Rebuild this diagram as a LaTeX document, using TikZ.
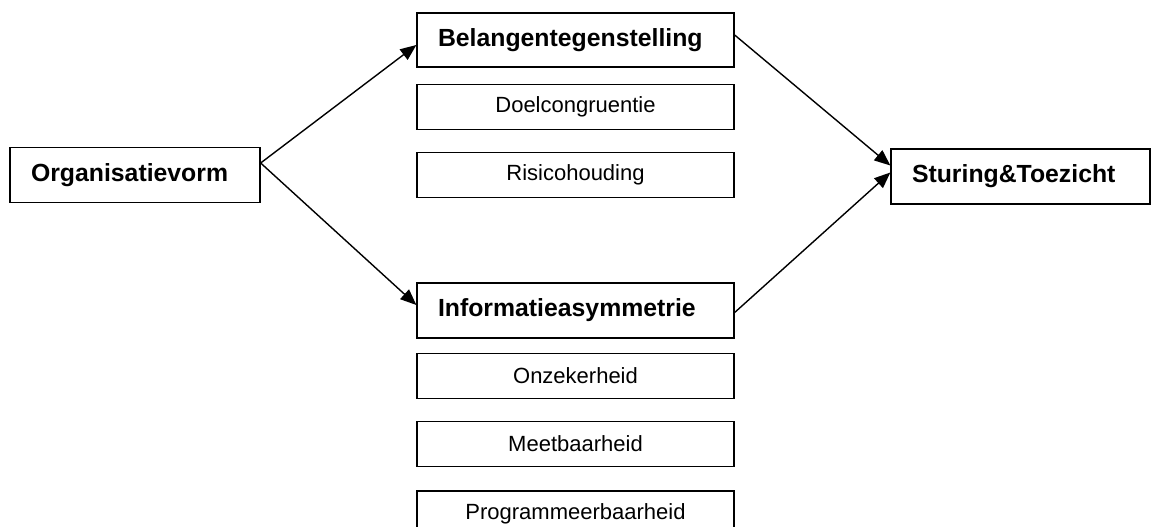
\documentclass[tikz,border=0pt]{standalone}
\usepackage{fontspec}
\setmainfont{Liberation Sans}
\usetikzlibrary{positioning,arrows.meta}

\begin{document}
\begin{tikzpicture}[x=1pt,y=1pt,
		mainbox/.style={draw, rectangle, line width=1.3pt, inner xsep=21pt, inner ysep=0pt, align=left, minimum height=55pt, font=\fontsize{24.8}{28}\selectfont\bfseries},
		subbox/.style={draw, rectangle, line width=1.3pt, inner sep=0pt, align=center, minimum width=317pt, minimum height=45pt, font=\fontsize{22}{25}\selectfont},
		pijl/.style={-{Triangle[length=16pt,width=13pt]}, line width=1.4pt}]
				\useasboundingbox (0,0) rectangle (1154,-527);
				\clip (0,0) rectangle (1154,-527);
				
				\node[mainbox, text width=208pt] (orgvorm) at (135,-175) {Organisatievorm};
				\node[mainbox, text width=275pt, minimum height=54pt] (belang) at (575.5,-40) {Belangentegenstelling};
				\node[subbox, below=16pt of belang] (doel) {Doelcongruentie};
				\node[subbox, below=22pt of doel] (risico) {Risicohouding};
				\node[mainbox, text width=275pt] (info) at (575.5,-310.5) {Informatieasymmetrie};
				\node[subbox, below=14pt of info] (onzek) {Onzekerheid};
				\node[subbox, below=22pt of onzek] (meet) {Meetbaarheid};
				\node[subbox, below=23pt of meet] (prog) {Programmeerbaarheid};
				\node[mainbox, text width=217pt] (sturing) at (1020.5,-176.5) {Sturing\&Toezicht};
				
				\draw[pijl] ([yshift=12pt]orgvorm.east) -- ([yshift=-5pt]belang.west);
				\draw[pijl] ([yshift=12pt]orgvorm.east) -- ([yshift=5.5pt]info.west);
				\draw[pijl] ([yshift=5pt]belang.east) -- ([yshift=11pt]sturing.west);
				\draw[pijl] ([yshift=-2pt]info.east) -- ([yshift=4pt]sturing.west);
			\end{tikzpicture}
\end{document}
